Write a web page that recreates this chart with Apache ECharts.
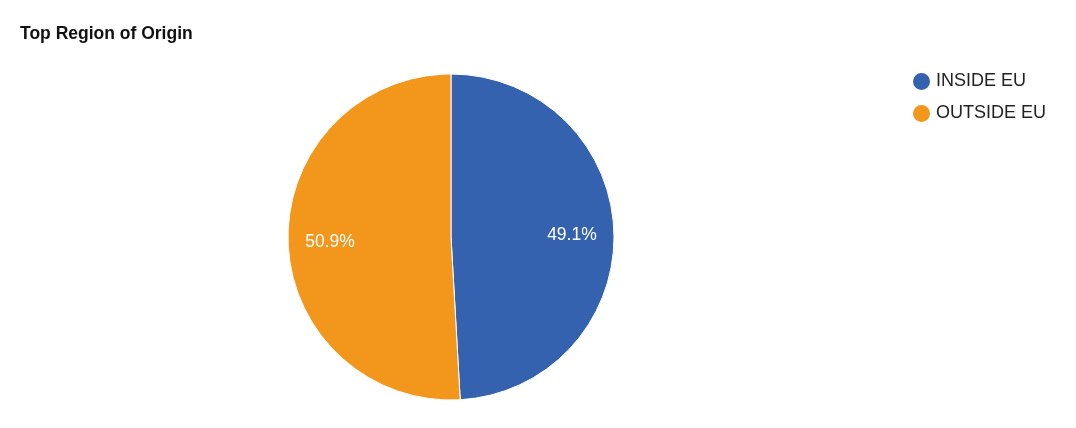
<!DOCTYPE html>
<html>
<head>
<meta charset="utf-8">
<script src="https://cdn.jsdelivr.net/npm/echarts@6/dist/echarts.min.js"></script>
<style>html,body{margin:0;padding:0;background:#fff;}#c{width:1076px;height:428px;}</style>
</head>
<body>
<div id="c"></div>
<script>
const categories = ['INSIDE EU', 'OUTSIDE EU'];
const values = [49.1, 50.9];
const colors = ['#3462AE', '#F2961C'];

const data = categories.map((n, i) => ({ name: n, value: values[i], itemStyle: { color: colors[i] } }));
const labelData = categories.map((n, i) => ({ name: n, value: values[i] }));

const chart = echarts.init(document.getElementById('c'));
chart.setOption({
  animation: false,
  backgroundColor: '#fff',
  title: {
    text: 'Top Region of Origin',
    left: 15, top: 20,
    textStyle: { fontFamily: 'Liberation Sans', fontSize: 17.5, fontWeight: 'bold', color: '#111' }
  },
  legend: {
    orient: 'vertical',
    left: 906, top: 66,
    icon: 'circle',
    itemWidth: 19, itemHeight: 19, itemGap: 11,
    textStyle: { fontFamily: 'Liberation Sans', fontSize: 18, color: '#222' },
    data: categories.map((n, i) => ({ name: n, itemStyle: { color: colors[i] } }))
  },
  series: [
    {
      type: 'pie',
      center: [451, 237],
      radius: [0, 163],
      startAngle: 90,
      clockwise: true,
      data: data,
      label: { show: false },
      labelLine: { show: false },
      itemStyle: { borderColor: '#fff', borderWidth: 1 },
      emphasis: { disabled: true }
    },
    {
      type: 'pie',
      center: [451, 239],
      radius: [73, 163],
      startAngle: 90,
      clockwise: true,
      silent: true,
      data: labelData,
      itemStyle: { color: 'rgba(0,0,0,0)' },
      label: {
        show: true, position: 'inside',
        formatter: p => p.value.toFixed(1) + '%',
        fontFamily: 'Liberation Sans', fontSize: 17.5, color: '#fff'
      },
      labelLine: { show: false },
      emphasis: { disabled: true }
    }
  ]
});
</script>
</body>
</html>
